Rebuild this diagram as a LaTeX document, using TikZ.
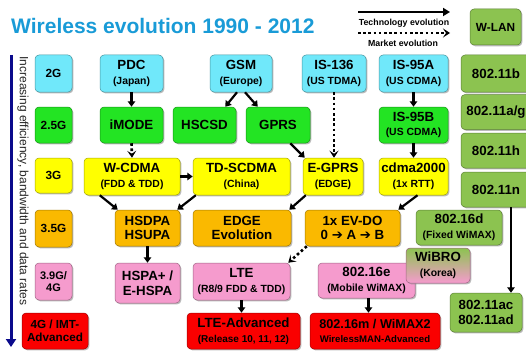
\documentclass[tikz,border=0pt]{standalone}
\usepackage{fontspec}
\setmainfont{Liberation Sans}
\newfontfamily\arrowfont{DejaVu Sans}
\usetikzlibrary{arrows.meta, shadows, calc}
\definecolor{titleblue}{RGB}{25,155,215}
\definecolor{ratenavy}{RGB}{10,10,140}
\definecolor{boxcyan}{RGB}{112,232,250}
\definecolor{boxgreen}{RGB}{35,228,35}
\definecolor{boxyellow}{RGB}{255,255,0}
\definecolor{boxorange}{RGB}{250,185,0}
\definecolor{boxpink}{RGB}{245,155,205}
\definecolor{boxred}{RGB}{250,0,0}
\definecolor{boxolive}{RGB}{140,195,80}
\newcommand{\mainf}{\fontsize{13.3}{14.5}\selectfont\bfseries}
\newcommand{\subf}{\fontsize{10.4}{12.5}\selectfont\bfseries}
\newcommand{\genf}{\fontsize{11.8}{13}\selectfont\bfseries}
\tikzset{
  techbox/.style={rounded corners=4pt, draw=#1!65!black, fill=#1, line width=0.5pt,
    inner sep=1pt, align=center, font=\mainf,
    drop shadow={shadow xshift=1.3pt, shadow yshift=-1.3pt, fill=black!45, opacity=0.6}},
  dims/.style 2 args={minimum width=#1pt, minimum height=#2pt},
  techarrow/.style={line width=2.2pt, -{Triangle[width=7.5pt,length=5.5pt]}},
  marketarrow/.style={line width=2.6pt, dash pattern=on 2.6pt off 2.6pt,
    -{Stealth[width=9pt,length=7pt,inset=3pt]}},
}
\begin{document}
\begin{tikzpicture}[x=1pt, y=-1pt]
    \useasboundingbox[fill=white] (0,0) rectangle (526,350);

    % title and legend
    \node[anchor=base west, inner sep=0, text=titleblue, font=\fontsize{21}{24}\selectfont\bfseries]
        (title) at (11,34) {Wireless evolution 1990 - 2012};
    \coordinate (techA) at (358,12);
    \coordinate (techB) at (450,12);
    \coordinate (mktA) at (358,33);
    \coordinate (mktB) at (450,33);
    \draw[line width=2.6pt, -{Triangle[width=8pt,length=7pt]}] (techA) -- (techB);
    \draw[marketarrow] (mktA) -- (mktB);
    \node[font=\fontsize{8.8}{10}\selectfont\bfseries] (techtext) at (404,23) {Technology evolution};
    \node[font=\fontsize{8.8}{10}\selectfont\bfseries] (mkttext) at (403,43) {Market evolution};

    % left axis
    \coordinate (ratetop) at (11,55);
    \coordinate (ratebot) at (11,347);
    \draw[ratenavy, line width=3pt, -{Triangle[width=10pt,length=8pt]}] (ratetop) -- (ratebot);
    \node[rotate=-90, font=\fontsize{12}{14}\selectfont, text=black!85] (ratetext) at (23,181)
        {Increasing efficiency, bandwidth and data rates};

    % generations
    \node[techbox=boxcyan, dims={37}{37}, font=\genf] (gen2g) at (53.5,73.5) {2G};
    \node[techbox=boxgreen, dims={37}{36}, font=\genf] (gen25g) at (53.5,125) {2.5G};
    \node[techbox=boxyellow, dims={37}{35}, font=\genf] (gen3g) at (53.5,175.5) {3G};
    \node[techbox=boxorange, dims={37}{37}, font=\genf] (gen35g) at (53.5,228.5) {3.5G};
    \node[techbox=boxpink, dims={37}{37}, font=\fontsize{11}{12.5}\selectfont\bfseries] (gen39g) at (53.5,281.5) {3.9G/\\4G};
    \node[techbox=boxred, dims={66}{36}, font=\fontsize{11.7}{13}\selectfont\bfseries] (gen4g) at (55,331) {4G / IMT-\\Advanced};

    % 2G
    \node[techbox=boxcyan, dims={63}{37}] (pdc) at (131.5,73.5) {PDC\\\subf (Japan)};
    \node[techbox=boxcyan, dims={62}{37}] (gsm) at (241,73.5) {GSM\\\subf (Europe)};
    \node[techbox=boxcyan, dims={64}{37}] (is136) at (334,73.5) {IS-136\\\subf (US TDMA)};
    \node[techbox=boxcyan, dims={69}{37}] (is95a) at (413.5,73.5) {IS-95A\\\subf (US CDMA)};

    % 2.5G
    \node[techbox=boxgreen, dims={63}{36}] (imode) at (131.5,125) {iMODE};
    \node[techbox=boxgreen, dims={63}{36}] (hscsd) at (204.5,125) {HSCSD};
    \node[techbox=boxgreen, dims={64}{36}] (gprs) at (278,125) {GPRS};
    \node[techbox=boxgreen, dims={69}{36}] (is95b) at (413.5,125) {IS-95B\\\subf (US CDMA)};

    % 3G
    \node[techbox=boxyellow, dims={96}{37}] (wcdma) at (132,176.5) {W-CDMA\\\subf (FDD \& TDD)};
    \node[techbox=boxyellow, dims={97}{37}] (tdscdma) at (241.5,176.5) {TD-SCDMA\\\subf (China)};
    \node[techbox=boxyellow, dims={60}{37}] (egprs) at (333,176.5) {E-GPRS\\\subf (EDGE)};
    \node[techbox=boxyellow, dims={69}{37}] (cdma) at (413.5,176.5) {cdma2000\\\subf (1x RTT)};

    % 3.5G
    \node[techbox=boxorange, dims={65}{36}] (hsdpa) at (147.5,228) {HSDPA\\HSUPA};
    \node[techbox=boxorange, dims={98}{36}] (edgeevo) at (242,228) {EDGE\\Evolution};
    \node[techbox=boxorange, dims={95}{36}] (evdo) at (352.5,228) {1x EV-DO\\0 {\arrowfont ➔} A {\arrowfont ➔} B};
    \node[techbox=boxolive, dims={86}{35}] (w16d) at (459,227.5) {802.16d\\\subf (Fixed WiMAX)};

    % 3.9G / 4G
    \node[techbox=boxpink, dims={65}{40}] (hspa) at (147.5,283) {HSPA+ /\\E-HSPA};
    \node[techbox=boxpink, dims={97}{37}] (lte) at (241.5,281.5) {LTE\\\subf (R8/9 FDD \& TDD)};
    \node[techbox=boxpink, dims={97}{35}] (w16e) at (366.5,280.5) {802.16e\\\subf (Mobile WiMAX)};
    \node[techbox=boxpink, top color=boxolive, bottom color=boxpink, dims={64}{35}] (wibro) at (438,265.5) {WiBRO\\\subf (Korea)};

    % 4G
    \node[techbox=boxred, dims={113}{36}] (lteadv) at (243.5,331) {LTE-Advanced\\\fontsize{10}{12}\selectfont (Release 10, 11, 12)};
    \node[techbox=boxred, dims={130}{36}] (w16m) at (375,331) {\fontsize{12.7}{14}\selectfont 802.16m / WiMAX2\\\fontsize{9.6}{11.5}\selectfont WirelessMAN-Advanced};

    % W-LAN
    \node[techbox=boxolive, dims={51}{36}, font=\genf] (wlan) at (495.5,27) {W-LAN};
    \node[techbox=boxolive, dims={70}{37}] (w11b) at (496,73.5) {802.11b};
    \node[techbox=boxolive, dims={70}{35}] (w11ag) at (496,112) {802.11a/g};
    \node[techbox=boxolive, dims={70}{35}] (w11h) at (496,150.5) {802.11h};
    \node[techbox=boxolive, dims={70}{35}] (w11n) at (496,189.5) {802.11n};
    \node[techbox=boxolive, dims={72}{39}] (w11ac) at (486,312.5) {802.11ac\\802.11ad};

    % technology evolution
    \draw[techarrow] (pdc) -- (imode);
    \draw[techarrow] ([xshift=-4pt]gsm.south) -- ([xshift=-11pt]hscsd.north east);
    \draw[techarrow] ([xshift=4pt]gsm.south) -- ([xshift=12pt]gprs.north west);
    \draw[techarrow] (is95a) -- (is95b);
    \draw[techarrow] (is95b) -- (cdma);
    \draw[techarrow] (wcdma) -- (tdscdma);
    \draw[techarrow] ([xshift=-20pt]gprs.south east) -- ([xshift=2pt]egprs.north west);
    \draw[techarrow] ([xshift=16pt]wcdma.south west) -- ([xshift=3pt]hsdpa.north west);
    \draw[techarrow] ([xshift=3pt]tdscdma.south west) -- ([xshift=-3pt]hsdpa.north east);
    \draw[techarrow] ([xshift=3pt]egprs.south west) -- ([xshift=-2pt]edgeevo.north east);
    \draw[techarrow] ([xshift=4pt]cdma.south) -- ([xshift=-2pt]evdo.north east);
    \draw[techarrow] (hsdpa) -- (hspa);
    \draw[techarrow] (lte.south) -- (lte.south |- lteadv.north);
    \draw[techarrow] ([xshift=2pt]w16e.south) -- ([xshift=2pt]w16e.south |- w16m.north);
    \draw[techarrow] ([xshift=15pt]w11n.south) -- ([xshift=15pt]w11n.south |- w11ac.north);

    % market evolution
    \draw[marketarrow] (imode.south) -- (wcdma.north);
    \draw[marketarrow] (is136.south) -- (is136.south |- egprs.north);
    \draw[marketarrow] ([xshift=2pt]evdo.south west) -- ([xshift=-2pt]lte.north east);
\end{tikzpicture}
\end{document}
